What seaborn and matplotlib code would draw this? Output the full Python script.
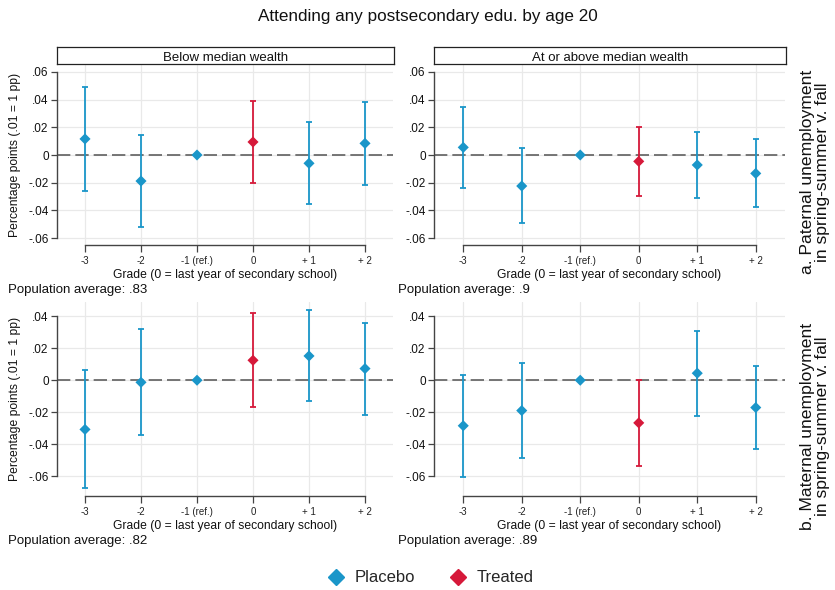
import numpy as np
import pandas as pd
import matplotlib
matplotlib.use("Agg")
import matplotlib.pyplot as plt
import seaborn as sns
from matplotlib.lines import Line2D

# =========================================
# DATA
# =========================================
grades = [-3, -2, -1, 0, 1, 2]
grade_labels = ["-3", "-2", "-1 (ref.)", "0", "+ 1", "+ 2"]
treated_grade = 0

# a. paternal, below median wealth
pat_low_est = [0.0116, -0.0188, 0.0, 0.0094, -0.0060, 0.0084]
pat_low_lo = [-0.0262, -0.0520, 0.0, -0.0205, -0.0352, -0.0214]
pat_low_hi = [0.0494, 0.0145, 0.0, 0.0388, 0.0239, 0.0386]

# a. paternal, at/above median wealth
pat_high_est = [0.0055, -0.0224, 0.0, -0.0046, -0.0072, -0.0133]
pat_high_lo = [-0.0238, -0.0492, 0.0, -0.0294, -0.0311, -0.0378]
pat_high_hi = [0.0350, 0.0048, 0.0, 0.0202, 0.0169, 0.0113]

# b. maternal, below median wealth
mat_low_est = [-0.0308, -0.0013, 0.0, 0.0125, 0.0152, 0.0073]
mat_low_lo = [-0.0677, -0.0344, 0.0, -0.0167, -0.0133, -0.0215]
mat_low_hi = [0.0065, 0.0320, 0.0, 0.0419, 0.0438, 0.0360]

# b. maternal, at/above median wealth
mat_high_est = [-0.0285, -0.0190, 0.0, -0.0267, 0.0044, -0.0171]
mat_high_lo = [-0.0604, -0.0485, 0.0, -0.0535, -0.0223, -0.0433]
mat_high_hi = [0.0035, 0.0108, 0.0, 0.0004, 0.0308, 0.0088]

pop_avg = [".83", ".9", ".82", ".89"]
col_titles = ["Below median wealth", "At or above median wealth"]
row_titles = ["a. Paternal unemployment\nin spring-summer v. fall",
              "b. Maternal unemployment\nin spring-summer v. fall"]

c_placebo = "#1a96c9"
c_treated = "#d6193a"

# =========================================
# FIGURE
# =========================================
sns.set_theme(style="white")
plt.rcParams['font.family'] = ['Liberation Sans', 'DejaVu Sans']

W, H = 835, 590
fig = plt.figure(figsize=(W / 100, H / 100), dpi=100)


def px_axes(left, right, top, bottom):
    return fig.add_axes([left / W, 1 - bottom / H, (right - left) / W, (bottom - top) / H])


panels = [
    (pat_low_est, pat_low_lo, pat_low_hi),
    (pat_high_est, pat_high_lo, pat_high_hi),
    (mat_low_est, mat_low_lo, mat_low_hi),
    (mat_high_est, mat_high_lo, mat_high_hi),
]
col_x = [(57, 393), (434, 785)]
row_y = [(65, 245), (302, 496)]
row_lims = [(-0.065, 0.065), (-0.0725, 0.049)]
row_ticks = [[0.06, 0.04, 0.02, 0, -0.02, -0.04, -0.06],
             [0.04, 0.02, 0, -0.02, -0.04, -0.06]]


def fmt(v):
    if v == 0:
        return "0"
    s = f"{v:.2f}"
    return s.replace("0.", ".")


for i, (est, lo, hi) in enumerate(panels):
    r, c = divmod(i, 2)
    ax = px_axes(col_x[c][0], col_x[c][1], row_y[r][0], row_y[r][1])

    df = pd.DataFrame({"grade": grades, "est": est, "lo": lo, "hi": hi})
    df["group"] = np.where(df["grade"] == treated_grade, "Treated", "Placebo")

    # grid
    for g in grades:
        ax.axvline(g, color="#e9e9e9", lw=0.9, zorder=0)
    for t in row_ticks[r]:
        ax.axhline(t, color="#e9e9e9", lw=0.9, zorder=0)
    ax.axhline(0, color="#5f5f5f", lw=1.2, ls=(0, (8, 3)), zorder=1)

    for grp, col in [("Placebo", c_placebo), ("Treated", c_treated)]:
        sub = df[df["group"] == grp]
        ax.errorbar(sub["grade"], sub["est"],
                    yerr=[sub["est"] - sub["lo"], sub["hi"] - sub["est"]],
                    fmt="none", ecolor=col, elinewidth=1.3, capsize=2.5,
                    capthick=1.3, zorder=2)
    sns.scatterplot(data=df, x="grade", y="est", hue="group",
                    palette={"Placebo": c_placebo, "Treated": c_treated},
                    marker="D", s=32, linewidth=0, legend=False, ax=ax, zorder=3)

    ax.set_xlim(-3.5, 2.5)
    ax.set_ylim(*row_lims[r])
    ax.set_xticks(grades)
    ax.set_xticklabels(grade_labels, fontsize=7, color="#222222")
    ax.set_yticks(row_ticks[r])
    ax.set_yticklabels([fmt(t) for t in row_ticks[r]], fontsize=8.5, color="#111111")
    ax.tick_params(axis="x", length=5, width=0.9, color="#444444", pad=3, bottom=True)
    ax.tick_params(axis="y", length=4, width=0.9, color="#444444", pad=2, left=True)
    for s in ["top", "right"]:
        ax.spines[s].set_visible(False)
    for s in ["left", "bottom"]:
        ax.spines[s].set_color("#444444")
        ax.spines[s].set_linewidth(1.0)
    ax.spines["left"].set_bounds(min(row_ticks[r]), max(row_ticks[r]))
    ax.spines["bottom"].set_bounds(-3, 2)
    ax.set_facecolor("white")

    ax.set_xlabel("Grade (0 = last year of secondary school)", fontsize=8.7,
                  color="#111111", labelpad=2)
    if c == 0:
        ax.set_ylabel("Percentage points (.01 = 1 pp)", fontsize=8.7, color="#111111",
                      labelpad=5)
    else:
        ax.set_ylabel("")

    # population average note
    px = 8 if c == 0 else 398
    py = 290 if r == 0 else 541
    fig.text(px / W, 1 - py / H, "Population average: " + pop_avg[i],
             fontsize=9.5, color="#111111", va="center", ha="left")

    # strip titles on top row
    if r == 0:
        sax = px_axes(col_x[c][0], col_x[c][1] + 1, 47, 64)
        sax.set_xticks([])
        sax.set_yticks([])
        for s in sax.spines.values():
            s.set_color("#222222")
            s.set_linewidth(0.9)
        sax.set_facecolor("white")
        sax.text(0.5, 0.45, col_titles[c], ha="center", va="center_baseline",
                 fontsize=9.5, color="#111111", transform=sax.transAxes)

# row labels on the right
for r, yc in enumerate([172, 426]):
    fig.text(815 / W, 1 - yc / H, row_titles[r], rotation=90, ha="center",
             va="center", fontsize=12.6, color="#111111", linespacing=1.0)

fig.text(428 / W, 1 - 17 / H, "Attending any postsecondary edu. by age 20",
         ha="center", va="center", fontsize=12.3, color="#111111")

handles = [Line2D([], [], marker="D", ls="none", color=c_placebo, markersize=8),
           Line2D([], [], marker="D", ls="none", color=c_treated, markersize=8)]
fig.legend(handles, ["Placebo", "Treated"], loc="center",
           bbox_to_anchor=(430 / W, 1 - 578 / H), ncol=2, frameon=False,
           fontsize=12, handletextpad=0.5, columnspacing=2.0, handlelength=1.2)

fig.savefig("out.png", dpi=100, facecolor="white")
